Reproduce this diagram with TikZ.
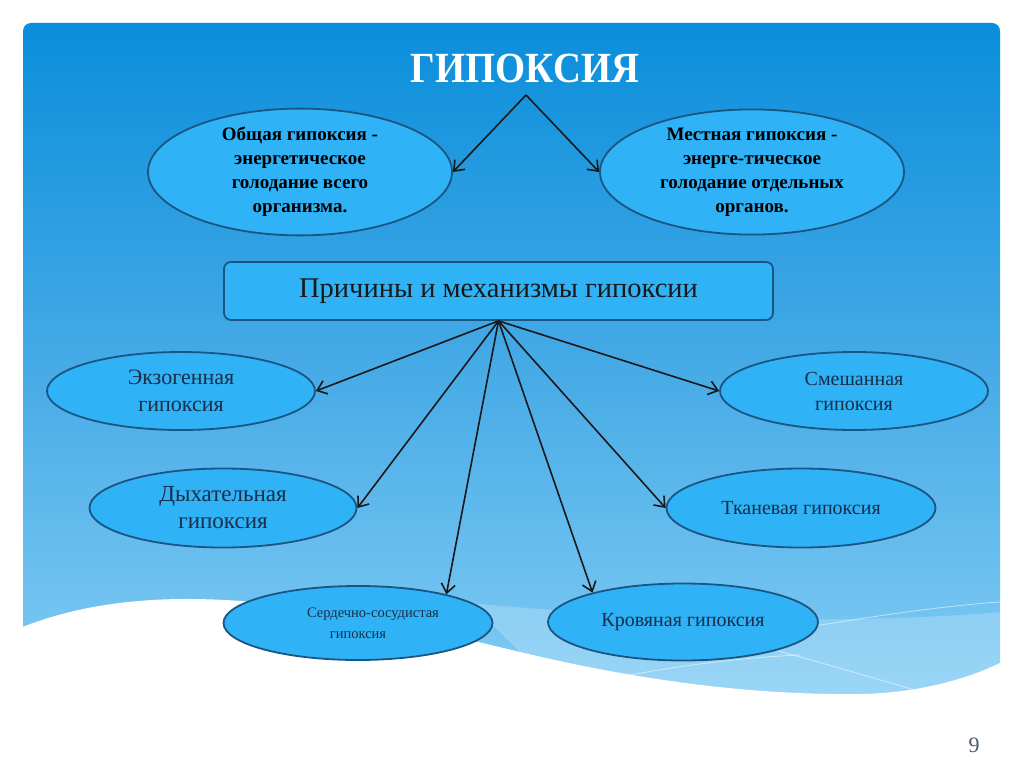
\documentclass[tikz,border=0pt]{standalone}
\usepackage{fontspec}
\setmainfont{Liberation Serif}
\usetikzlibrary{shapes.geometric,arrows.meta}
\definecolor{bgtop}{HTML}{0A8EDB}
\definecolor{bgmid}{HTML}{45AAE6}
\definecolor{bgbot}{HTML}{82CCF4}
\definecolor{ellfill}{HTML}{2FB2F6}
\definecolor{ellline}{HTML}{1B5584}
\definecolor{txtnavy}{HTML}{1A2E48}
\definecolor{pgnum}{HTML}{4A5A6A}
\tikzset{
  oval/.style={ellipse, draw=ellline, line width=1.8pt, fill=ellfill, inner sep=0pt, align=center, text=txtnavy},
  conn/.style={-{Straight Barb[length=9pt,width=14pt,line width=1.6pt]}, line width=1.6pt, draw=black!90},
  shine/.style={draw=white, opacity=0.55, line width=0.8pt}
}
\begin{document}
\begin{tikzpicture}[x=1pt,y=-1pt]
\useasboundingbox (0,0) rectangle (1024,767);
\fill[white] (0,0) rectangle (1024,767);
\shade[top color=bgtop, bottom color=bgbot, middle color=bgmid, rounded corners=8pt] (23,23) rectangle (1000,700);
% lighter band
\fill[white, opacity=0.2] (470,603) .. controls (650,620) and (850,625) .. (1000,612) -- (1000,663)
  .. controls (970,678) and (920,693) .. (860,694) .. controls (760,695) and (650,683) .. (520,652) -- cycle;
% white wave
\fill[white] (20,628) .. controls (60,612) and (110,600) .. (180,599) .. controls (300,598) and (420,628) .. (520,652)
  .. controls (650,683) and (760,695) .. (860,694) .. controls (920,693) and (970,678) .. (1002,662)
  -- (1002,767) -- (20,767) -- cycle;
% thin highlight lines
\draw[shine] (780,632) .. controls (860,618) and (940,606) .. (1000,602);
\draw[shine] (775,650) .. controls (830,665) and (880,680) .. (915,690);
\draw[shine] (630,675) .. controls (690,664) and (750,657) .. (800,655);

\node[text=white, font=\bfseries\fontsize{43}{48}\selectfont, xscale=0.9] (title) at (525,68) {ГИПОКСИЯ};
\coordinate (apex) at (526,95);

\node[oval, minimum width=304pt, minimum height=120pt, text=black, font=\bfseries\fontsize{19}{24}\selectfont] (gen) at (300,172)
  {Общая гипоксия -\\энергетическое\\голодание всего\\организма.};
\node[oval, minimum width=304pt, minimum height=120pt, text=black, font=\bfseries\fontsize{19}{24}\selectfont] (loc) at (752,172)
  {Местная гипоксия -\\энерге-тическое\\голодание отдельных\\органов.};

\draw[conn] (apex) -- (gen.east);
\draw[conn] (apex) -- (loc.west);

\node[draw=ellline, line width=1.8pt, fill=ellfill, rounded corners=7pt, minimum width=549pt, minimum height=58pt,
  font=\fontsize{28.5}{32}\selectfont, text=black!90] (box) at (498.5,291) {Причины и механизмы гипоксии};

\node[oval, minimum width=268pt, minimum height=78pt, font=\fontsize{22}{27}\selectfont] (exo) at (181,391) {Экзогенная\\гипоксия};
\node[oval, minimum width=268pt, minimum height=78pt, font=\fontsize{20}{25}\selectfont] (mix) at (854,391) {Смешанная\\гипоксия};
\node[oval, minimum width=267pt, minimum height=79pt, font=\fontsize{23}{27}\selectfont] (resp) at (223,508) {Дыхательная\\гипоксия};
\node[oval, minimum width=269pt, minimum height=79pt, font=\fontsize{20}{25}\selectfont] (tis) at (801,508) {Тканевая гипоксия};
\node[oval, minimum width=269pt, minimum height=74pt, font=\fontsize{14.5}{21}\selectfont] (cv) at (358,623) {\hspace*{30pt}Сердечно-сосудистая\\гипоксия};
\node[oval, minimum width=270pt, minimum height=77pt, font=\fontsize{20}{25}\selectfont] (blood) at (683,622) {Кровяная гипоксия};

\draw[conn] (box.south) -- (exo.east);
\draw[conn] (box.south) -- (mix.west);
\draw[conn] (box.south) -- (resp.east);
\draw[conn] (box.south) -- (tis.west);
\draw[conn] (box.south) -- (cv.18);
\draw[conn] (box.south) -- (blood.162);

\node[text=pgnum, font=\fontsize{22}{24}\selectfont] (pg) at (974,745) {9};
\end{tikzpicture}
\end{document}
